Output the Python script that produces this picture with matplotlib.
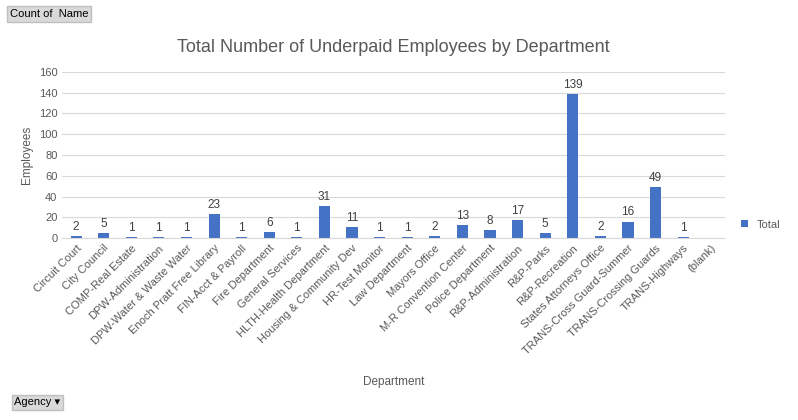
import matplotlib.pyplot as plt
import numpy as np

departments = ['Circuit Court', 'City Council', 'COMP-Real Estate', 'DPW-Administration',
               'DPW-Water & Waste Water', 'Enoch Pratt Free Library', 'FIN-Acct & Payroll',
               'Fire Department', 'General Services', 'HLTH-Health Department',
               'Housing & Community Dev', 'HR-Test Monitor', 'Law Department', 'Mayors Office',
               'M-R Convention Center', 'Police Department', 'R&P-Administration', 'R&P-Parks',
               'R&P-Recreation', 'States Attorneys Office', 'TRANS-Cross Guard-Summer',
               'TRANS-Crossing Guards', 'TRANS-Highways', '(blank)']
counts = [2, 5, 1, 1, 1, 23, 1, 6, 1, 31, 11, 1, 1, 2, 13, 8, 17, 5, 139, 2, 16, 49, 1, None]

plt.rcParams['font.family'] = ['Liberation Sans', 'DejaVu Sans']
fig = plt.figure(figsize=(7.98, 4.2), dpi=100)
ax = fig.add_axes([0.078, 0.433, 0.83, 0.396])

x = np.arange(len(departments))
vals = [0 if v is None else v for v in counts]
bars = ax.bar(x, vals, width=0.4, color='#4472C4', label='Total')
for xi, v in zip(x, counts):
    if v is not None:
        ax.text(xi, v + 3, str(v), ha='center', va='bottom', fontsize=8.5, color='#404040')

ax.set_xlim(-0.5, len(departments) - 0.5)
ax.set_ylim(0, 160)
ax.set_yticks(range(0, 161, 20))
ax.grid(axis='y', color='#d9d9d9', linewidth=0.8)
ax.set_axisbelow(True)
for s in ['top', 'right', 'left']:
    ax.spines[s].set_visible(False)
ax.spines['bottom'].set_color('#d9d9d9')
ax.tick_params(length=0, labelsize=8, colors='#595959')
ax.set_xticks(x)
ax.set_xticklabels(departments, rotation=45, ha='right', rotation_mode='anchor')
ax.set_ylabel('Employees', fontsize=8.5, color='#595959')
ax.set_xlabel('Department', fontsize=8.5, color='#595959', labelpad=14)
ax.set_title('Total Number of Underpaid Employees by Department', fontsize=13,
             color='#595959', pad=14)
ax.legend(loc='center left', bbox_to_anchor=(1.01, 0.08), frameon=False, fontsize=8,
          handlelength=0.6, handleheight=0.6, labelcolor='#595959')

fig.text(0.012, 0.967, 'Count of  Name', fontsize=8, va='center',
         bbox=dict(boxstyle='square,pad=0.25', fc='#d9d9d9', ec='#bfbfbf'))
fig.text(0.018, 0.042, 'Agency \u25be', fontsize=8, va='center',
         bbox=dict(boxstyle='square,pad=0.25', fc='#d9d9d9', ec='#bfbfbf'))

fig.savefig('out.png', dpi=100)
